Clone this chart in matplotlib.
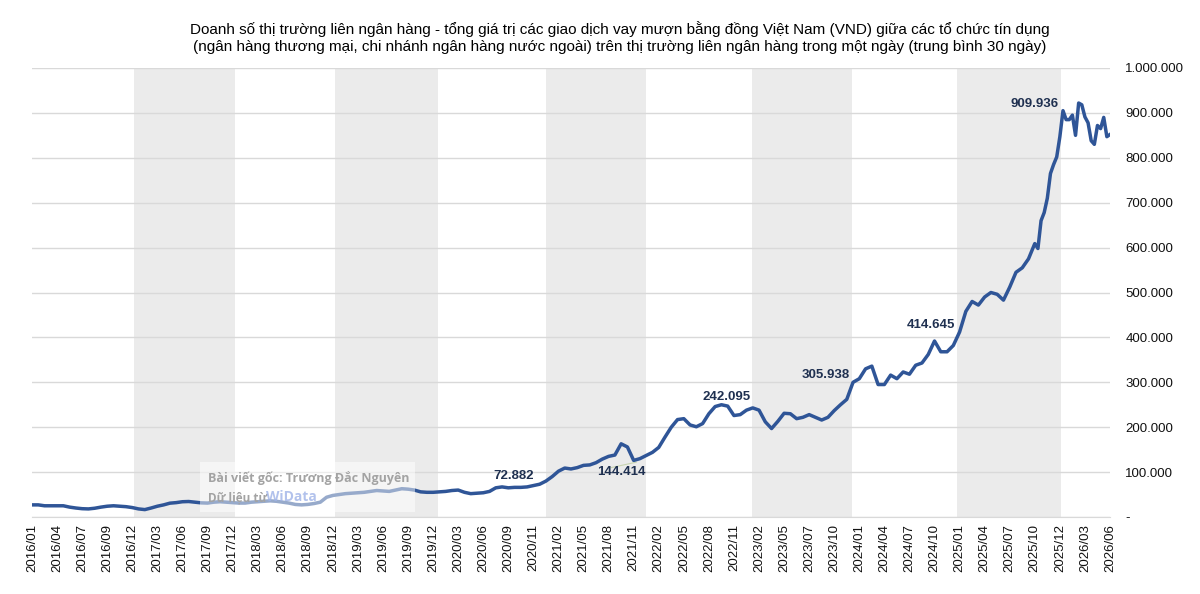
import numpy as np
import matplotlib
matplotlib.use('Agg')
import matplotlib.pyplot as plt
from matplotlib.patches import Rectangle
from matplotlib.ticker import FuncFormatter

plt.rcParams['font.family'] = ['Liberation Sans', 'DejaVu Sans']

title_1 = ('Doanh số thị trường liên ngân hàng - tổng giá trị các giao dịch vay mượn bằng '
           'đồng Việt Nam (VND) giữa các tổ chức tín dụng')
title_2 = ('(ngân hàng thương mại, chi nhánh ngân hàng nước ngoài) trên thị trường liên '
           'ngân hàng trong một ngày (trung bình 30 ngày)')

tick_labels = ['2016/01', '2016/04', '2016/07', '2016/09', '2016/12',
               '2017/03', '2017/06', '2017/09', '2017/12',
               '2018/03', '2018/06', '2018/09', '2018/12',
               '2019/03', '2019/06', '2019/09', '2019/12',
               '2020/03', '2020/06', '2020/09', '2020/11',
               '2021/02', '2021/05', '2021/08', '2021/11',
               '2022/02', '2022/05', '2022/08', '2022/11',
               '2023/02', '2023/05', '2023/07', '2023/10',
               '2024/01', '2024/04', '2024/07', '2024/10',
               '2025/01', '2025/04', '2025/07', '2025/10', '2025/12',
               '2026/03', '2026/06']

# thousand VND bn, sampled every quarter of a tick step (2016/01 .. 2025/10)
values_main = [27, 27, 25, 25, 25, 25, 22, 20, 18.5, 18, 19.5, 22, 24, 25, 24, 23,
               21, 18, 16.5, 20, 24, 27, 30.8, 32, 34, 34.5, 33, 31.5, 31, 33, 34, 33,
               32, 31, 31, 33, 34, 35, 36, 35, 33, 31, 28, 27, 28, 30, 33, 44,
               48, 50, 52, 53, 54, 55, 57, 59, 58, 57, 60, 63, 62, 60, 56, 55,
               55, 56, 57, 59, 60, 55, 52, 53, 54, 57, 65, 67, 65, 66, 66, 67,
               70, 73, 80, 90, 102, 109, 107, 110, 115, 116, 121, 129, 135, 138, 163, 156,
               126, 130, 137, 144, 155, 178, 200, 217, 219, 205, 201, 208, 230, 246, 250, 247,
               226, 228, 238, 243, 238, 212, 197, 213, 231, 230, 219, 222, 228, 222, 216, 222,
               237, 250, 262, 300, 308, 330, 336, 295, 295, 316, 308, 323, 318, 338, 343, 362,
               392, 368, 368, 382, 412, 458, 480, 472, 490, 500, 496, 483, 512, 545, 555, 575,
               609]
# recent period, every eighth of a tick step
values_recent = [598, 660, 678, 710, 765, 785, 802, 847, 905, 885, 885, 895,
                 850, 922, 918, 891, 878, 838, 830, 872, 865, 890, 847, 852]

# odd calendar years shaded (in tick units)
shade_spans = [(4.05, 8.1), (12.1, 16.2), (20.5, 24.5), (28.7, 32.7), (36.9, 41.05)]

# callouts: text, x (tick units), y
callouts = [('909.936', 40.97, 920000, 'right'),
            ('414.645', 35.86, 428000, 'center'),
            ('305.938', 31.65, 317000, 'center'),
            ('242.095', 27.72, 267000, 'center'),
            ('144.414', 23.49, 101000, 'center'),
            ('72.882', 19.23, 91000, 'center')]

x_main = np.arange(len(values_main)) * 0.25
x_recent = x_main[-1] + np.arange(1, len(values_recent) + 1) * 0.125
xs = np.concatenate([x_main, x_recent])
ys = np.array(values_main + values_recent) * 1000

fig = plt.figure(figsize=(12, 5.94), dpi=100)
ax = fig.add_axes([32 / 1200, 1 - 517 / 594, 1078 / 1200, 449 / 594])

for a, b in shade_spans:
    ax.axvspan(a, b, color='#ebebeb', lw=0, zorder=0)

ax.plot(xs, ys, color='#2f5597', lw=2.5, zorder=3, solid_joinstyle='round')

ax.set_xlim(0, len(tick_labels) - 1)
ax.set_ylim(0, 1000000)
ax.set_yticks(np.arange(0, 1000001, 100000))
ax.yaxis.set_major_formatter(FuncFormatter(
    lambda v, p: '-' if v == 0 else f'{int(v):,}'.replace(',', '.')))
ax.yaxis.tick_right()
ax.set_xticks(np.arange(len(tick_labels)))
ax.set_xticklabels(tick_labels, rotation=90)
ax.tick_params(axis='both', length=0, labelsize=9.5, colors='#111111')
ax.tick_params(axis='y', pad=11)
ax.tick_params(axis='x', pad=5)
for lab in ax.get_yticklabels():
    lab.set_horizontalalignment('left')

ax.yaxis.grid(True, color='#d9d9d9', lw=1)
ax.set_axisbelow(True)
for s in ['top', 'left', 'right']:
    ax.spines[s].set_visible(False)
ax.spines['bottom'].set_color('#d9d9d9')

for txt, cx, cy, ha in callouts:
    ax.text(cx, cy, txt, ha=ha, va='center', fontsize=9.5, fontweight='bold',
            color='#1f3050', zorder=6)
ax.plot([23.1, 24.1], [110000, 122000], color='#c8d4b0', lw=0.8, zorder=2)

fig.text(620 / 1200, 1 - 29 / 594, title_1, ha='center', va='center', fontsize=11)
fig.text(620 / 1200, 1 - 47 / 594, title_2, ha='center', va='center', fontsize=11)

# watermark
ax.add_patch(Rectangle((200 / 1200, 1 - 512 / 594), 215 / 1200, 50 / 594,
                       transform=fig.transFigure, facecolor='white', alpha=0.5,
                       lw=0, zorder=4))
fig.text(208 / 1200, 1 - 478 / 594, 'Bài viết gốc: Trương Đắc Nguyên',
         family=['Open Sans', 'DejaVu Sans'], fontweight='bold', fontsize=9,
         color='#a3a3a3', va='center', ha='left', zorder=5)
fig.text(208 / 1200, 1 - 498 / 594, 'Dữ liệu từ',
         family=['Open Sans', 'DejaVu Sans'], fontweight='bold', fontsize=8.5,
         color='#a3a3a3', va='center', ha='left', zorder=5)
fig.text(266 / 1200, 1 - 497 / 594, 'WiData',
         family=['Open Sans', 'DejaVu Sans'], fontweight='bold', fontsize=10,
         color='#9fb3e8', alpha=0.8, va='center', ha='left', zorder=5)

fig.savefig('out.png', dpi=100)
